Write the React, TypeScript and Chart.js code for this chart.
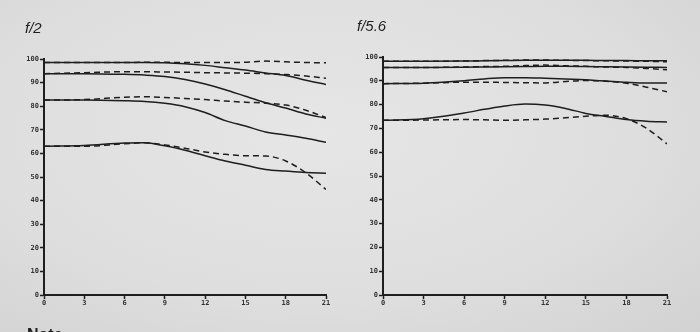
import React, { useEffect, useRef } from "react";
import { Chart, registerables } from "chart.js";

Chart.register(...registerables);

// Image height (mm) positions
const X = [0, 3, 6, 7.5, 9, 10.5, 12, 13.5, 15, 16.5, 18, 19.5, 21];
const X_TICKS = [0, 3, 6, 9, 12, 15, 18, 21];

// f/2 panel
const F2_S1 = [98.5, 98.5, 98.5, 98.5, 98.4, 98.0, 97.3, 96.3, 95.3, 94.1, 93.0, 91.0, 89.2];
const F2_D1 = [98.5, 98.5, 98.5, 98.6, 98.6, 98.5, 98.5, 98.5, 98.6, 99.1, 98.8, 98.5, 98.4];
const F2_S2 = [93.8, 93.8, 93.5, 93.2, 92.6, 91.3, 89.4, 87.0, 84.2, 81.5, 79.2, 76.7, 74.9];
const F2_D2 = [93.8, 94.2, 94.6, 94.6, 94.5, 94.4, 94.2, 94.1, 94.0, 93.8, 93.4, 92.8, 91.8];
const F2_S3 = [82.6, 82.6, 82.3, 82.0, 81.2, 79.8, 77.3, 73.9, 71.6, 69.1, 67.8, 66.4, 64.7];
const F2_D3 = [82.6, 82.8, 83.8, 84.0, 83.7, 83.3, 82.8, 82.2, 81.7, 81.3, 80.5, 78.3, 75.2];
const F2_S4 = [63.0, 63.4, 64.4, 64.5, 63.2, 61.3, 59.0, 56.8, 55.0, 53.2, 52.5, 51.9, 51.6];
const F2_D4 = [63.0, 63.0, 64.1, 64.5, 63.6, 62.2, 60.6, 59.6, 59.0, 58.9, 56.8, 51.8, 44.7];

// f/5.6 panel
const F56_S1 = [98.2, 98.2, 98.3, 98.4, 98.5, 98.6, 98.6, 98.6, 98.6, 98.5, 98.5, 98.4, 98.4];
const F56_D1 = [98.2, 98.2, 98.3, 98.5, 98.6, 98.7, 98.7, 98.6, 98.5, 98.4, 98.3, 98.2, 98.0];
const F56_S2 = [95.6, 95.6, 95.7, 95.8, 95.9, 96.0, 96.1, 96.1, 96.0, 95.9, 95.8, 95.7, 95.6];
const F56_D2 = [95.6, 95.6, 95.8, 96.0, 96.1, 96.4, 96.6, 96.3, 96.1, 95.8, 95.6, 95.2, 94.6];
const F56_S3 = [88.8, 89.0, 90.0, 90.8, 91.3, 91.3, 91.1, 90.8, 90.4, 89.9, 89.4, 89.1, 89.1];
const F56_D3 = [88.8, 89.0, 89.4, 89.4, 89.3, 89.2, 89.1, 89.7, 90.1, 89.8, 89.0, 87.3, 85.4];
const F56_S4 = [73.4, 74.1, 76.5, 78.0, 79.4, 80.2, 79.8, 78.4, 76.3, 75.0, 73.7, 73.0, 72.7];
const F56_D4 = [73.4, 73.5, 73.7, 73.6, 73.4, 73.6, 73.9, 74.5, 75.1, 75.5, 74.1, 70.0, 63.5];

const INK = "#1e1e1e";

function makeDataset(values: number[], dashed: boolean) {
  return {
    data: values.map((v, i) => ({ x: X[i], y: v })),
    borderColor: INK,
    borderWidth: 1.5,
    borderDash: dashed ? [6, 4] : [],
    pointRadius: 0,
    fill: false,
    tension: 0.4,
    cubicInterpolationMode: "monotone" as const,
  };
}

type PanelProps = {
  series: { v: number[]; dashed: boolean }[];
  left: number;
  width: number;
  yAxisWidth: number;
  padRight: number;
  padTop: number;
};

function Panel({ series, left, width, yAxisWidth, padRight, padTop }: PanelProps) {
  const ref = useRef<HTMLCanvasElement | null>(null);
  useEffect(() => {
    if (!ref.current) return;
    const chart = new Chart(ref.current, {
      type: "line",
      data: { datasets: series.map((s) => makeDataset(s.v, s.dashed)) as any },
      options: {
        animation: false,
        responsive: false,
        maintainAspectRatio: false,
        layout: { padding: { left: 0, right: padRight, top: padTop, bottom: 17 } },
        plugins: { legend: { display: false }, tooltip: { enabled: false }, title: { display: false } },
        scales: {
          x: {
            type: "linear",
            min: 0,
            max: 21,
            afterBuildTicks: (scale: any) => {
              scale.ticks = X_TICKS.map((v) => ({ value: v }));
            },
            afterFit: (scale: any) => {
              scale.height = 20;
            },
            ticks: {
              color: "#333",
              font: { family: "DejaVu Sans Mono", size: 7, weight: "bold" },
              padding: 0,
              maxRotation: 0,
              autoSkip: false,
            },
            grid: {
              drawOnChartArea: false,
              drawTicks: true,
              tickLength: 4,
              tickWidth: 1.5,
              tickColor: INK,
            },
            border: { display: true, color: INK, width: 2 },
          },
          y: {
            type: "linear",
            min: 0,
            max: 100,
            afterFit: (scale: any) => {
              scale.width = yAxisWidth;
            },
            ticks: {
              stepSize: 10,
              color: "#333",
              font: { family: "DejaVu Sans Mono", size: 7, weight: "bold" },
              padding: 1,
            },
            grid: {
              drawOnChartArea: false,
              drawTicks: true,
              tickLength: 4,
              tickWidth: 1.5,
              tickColor: INK,
            },
            border: { display: true, color: INK, width: 2 },
          },
        },
      } as any,
    });
    return () => chart.destroy();
  }, []);
  return (
    <canvas
      ref={ref}
      width={width}
      height={332}
      style={{ position: "absolute", left, top: 0, width, height: 332 }}
    />
  );
}

export default function App() {
  const f2 = [
    { v: F2_S1, dashed: false },
    { v: F2_D1, dashed: true },
    { v: F2_S2, dashed: false },
    { v: F2_D2, dashed: true },
    { v: F2_S3, dashed: false },
    { v: F2_D3, dashed: true },
    { v: F2_S4, dashed: false },
    { v: F2_D4, dashed: true },
  ];
  const f56 = [
    { v: F56_S1, dashed: false },
    { v: F56_D1, dashed: true },
    { v: F56_S2, dashed: false },
    { v: F56_D2, dashed: true },
    { v: F56_S3, dashed: false },
    { v: F56_D3, dashed: true },
    { v: F56_S4, dashed: false },
    { v: F56_D4, dashed: true },
  ];
  const titleStyle: React.CSSProperties = {
    position: "absolute",
    fontFamily: "'Liberation Sans', Arial, sans-serif",
    fontStyle: "italic",
    fontSize: 15,
    lineHeight: "15px",
    color: "#1e1e1e",
  };
  return (
    <div
      style={{
        position: "fixed",
        left: 0,
        top: 0,
        width: 700,
        height: 332,
        overflow: "hidden",
        background: "radial-gradient(ellipse at 45% 40%, #e6e6e6 0%, #dedede 60%, #d2d2d2 100%)",
      }}
    >
      <div style={{ ...titleStyle, left: 25, top: 20 }}>f/2</div>
      <div style={{ ...titleStyle, left: 357, top: 18 }}>f/5.6</div>
      <Panel series={f2} left={0} width={345} yAxisWidth={44} padRight={19} padTop={59} />
      <Panel series={f56} left={345} width={355} yAxisWidth={38} padRight={33} padTop={57} />
      <div
        style={{
          position: "absolute",
          left: 27,
          top: 327,
          fontFamily: "'Liberation Sans', Arial, sans-serif",
          fontWeight: "bold",
          fontSize: 16,
          lineHeight: "16px",
          color: "#1e1e1e",
        }}
      >
        Note
      </div>
    </div>
  );
}
